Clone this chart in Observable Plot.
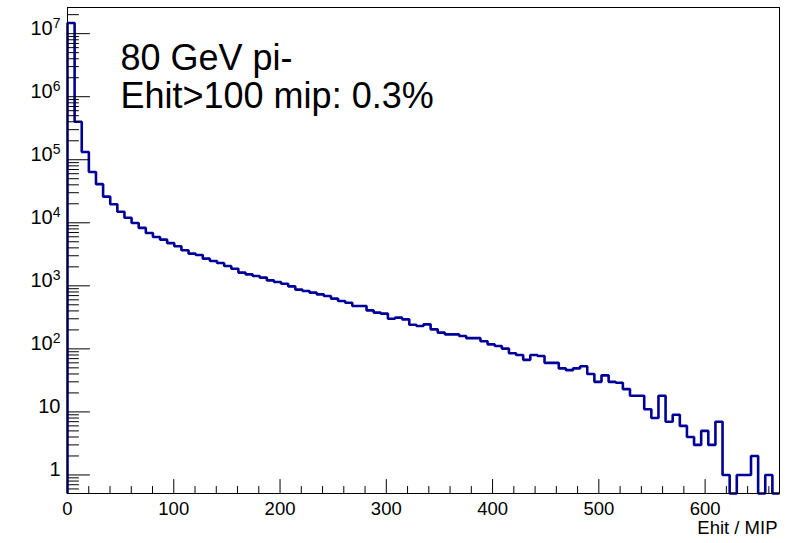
<!DOCTYPE html>
<html>
<head>
<meta charset="utf-8">
<script src="https://cdn.jsdelivr.net/npm/d3@7"></script>
<script src="https://cdn.jsdelivr.net/npm/@observablehq/plot@0.6"></script>
<style>
  html, body { margin: 0; padding: 0; background: #fff; }
  svg { font-family: "Liberation Sans", Arial, Helvetica, sans-serif; }
</style>
</head>
<body>
<div id="chart"></div>
<script>
// Histogram: Ehit / MIP, 100 bins from 0 to 670, counts per bin
const xMin = 0;
const xMax = 670;
const counts = [
  14800000, 400000, 133000, 64000, 41000, 26000, 19700, 15000, 12000, 9900,
  8300, 6900, 5960, 5400, 4750, 4240, 3660, 3240, 3080, 2700,
  2480, 2300, 2060, 1870, 1620, 1520, 1430, 1350, 1220, 1150,
  1080, 980, 870, 826, 780, 733, 690, 627, 574, 540,
  478, 478, 408, 376, 362, 301, 313, 294, 242, 230,
  245, 204, 181, 170, 170, 160, 148, 148, 132, 118,
  111, 101, 85, 80, 67, 80, 77, 60, 60, 49,
  46, 49, 53, 40, 30, 38, 30, 29, 23, 18,
  18, 11, 8, 18, 7, 9, 6, 4, 3, 5,
  3, 7, 1, 0, 1, 1, 2, 0, 1, 0
];
const yDomain = [0.508, 2.6e7];
const yMajorTicks = [1, 10, 1e2, 1e3, 1e4, 1e5, 1e6, 1e7];
const yMajorLabels = ["1", "10", "10^2", "10^3", "10^4", "10^5", "10^6", "10^7"];
const xMajorTicks = [0, 100, 200, 300, 400, 500, 600];
const xMajorLabels = ["0", "100", "200", "300", "400", "500", "600"];
const xMinorStep = 20;
const annotationLines = ["80 GeV pi-", "Ehit>100 mip: 0.3%"];
const xTitle = "Ehit / MIP";

// derived structures
const nBins = counts.length;
const bw = (xMax - xMin) / nBins;
const yLow = yDomain[0];
const pts = [{x: xMin, y: yLow}];
counts.forEach((c, i) => pts.push({x: xMin + i * bw, y: Math.max(c, yLow)}));
pts.push({x: xMax, y: Math.max(counts[nBins - 1], yLow)});
pts.push({x: xMax, y: yLow});

const yMinor = [];
for (let e = -1; e <= 7; e++) {
  for (let m = 2; m <= 9; m++) {
    const v = m * Math.pow(10, e);
    if (v >= yDomain[0] && v <= yDomain[1]) yMinor.push(v);
  }
}
const xMinor = d3.range(xMin, xMax + 1e-9, xMinorStep).filter(v => v % 100 !== 0);

const tickShape = {draw(ctx, l) { ctx.moveTo(0, 0); ctx.lineTo(0, -l); }};

const plot = Plot.plot({
  width: 800,
  height: 543,
  marginLeft: 67,
  marginRight: 21,
  marginTop: 7,
  marginBottom: 50,
  style: {fontFamily: '"Liberation Sans", Arial, Helvetica, sans-serif', background: "#fff", color: "#000"},
  x: {domain: [xMin, xMax]},
  y: {type: "log", domain: yDomain},
  marks: [
    Plot.line(pts, {x: "x", y: "y", curve: "step-after", stroke: "#000099", strokeWidth: 2.6, strokeLinejoin: "miter", strokeLinecap: "butt"}),
    Plot.frame({stroke: "#000", strokeWidth: 1}),
    // inward ticks
    Plot.vector(yMajorTicks, {y: d => d, frameAnchor: "left", rotate: 90, length: 22, anchor: "start", shape: tickShape, stroke: "#000", strokeWidth: 1}),
    Plot.vector(yMinor, {y: d => d, frameAnchor: "left", rotate: 90, length: 11, anchor: "start", shape: tickShape, stroke: "#000", strokeWidth: 1}),
    Plot.vector(xMajorTicks, {x: d => d, frameAnchor: "bottom", rotate: 0, length: 14, anchor: "start", shape: tickShape, stroke: "#000", strokeWidth: 1}),
    Plot.vector(xMinor, {x: d => d, frameAnchor: "bottom", rotate: 0, length: 7, anchor: "start", shape: tickShape, stroke: "#000", strokeWidth: 1}),
    Plot.axisX({ticks: xMajorTicks, tickFormat: d => xMajorLabels[xMajorTicks.indexOf(d)], tickSize: 0, tickPadding: 8, fontSize: 18.5, label: null}),
    Plot.axisY({ticks: yMajorTicks, tickFormat: d => yMajorLabels[yMajorTicks.indexOf(d)], tickSize: 0, tickPadding: 7, fontSize: 20, dy: -5, label: null}),
    Plot.text([annotationLines.join("\n")], {text: d => d, frameAnchor: "top-left", dx: 53, dy: 36, fontSize: 36, lineHeight: 1.05, textAnchor: "start", lineAnchor: "top", fill: "#000"}),
    Plot.text([xTitle], {text: d => d, frameAnchor: "bottom-right", dx: -2, dy: 40, fontSize: 18.5, textAnchor: "end", lineAnchor: "bottom", fill: "#000"})
  ]
});

// render exponent as superscript
d3.select(plot).selectAll('g[aria-label="y-axis tick label"] text').each(function () {
  const t = this.textContent;
  if (t.includes("^")) {
    const [b, e] = t.split("^");
    const el = d3.select(this);
    el.text(null);
    el.append("tspan").text(b);
    el.append("tspan").attr("dy", "-0.5em").attr("font-size", "0.7em").text(e);
  }
});

document.getElementById("chart").appendChild(plot);
</script>
</body>
</html>
